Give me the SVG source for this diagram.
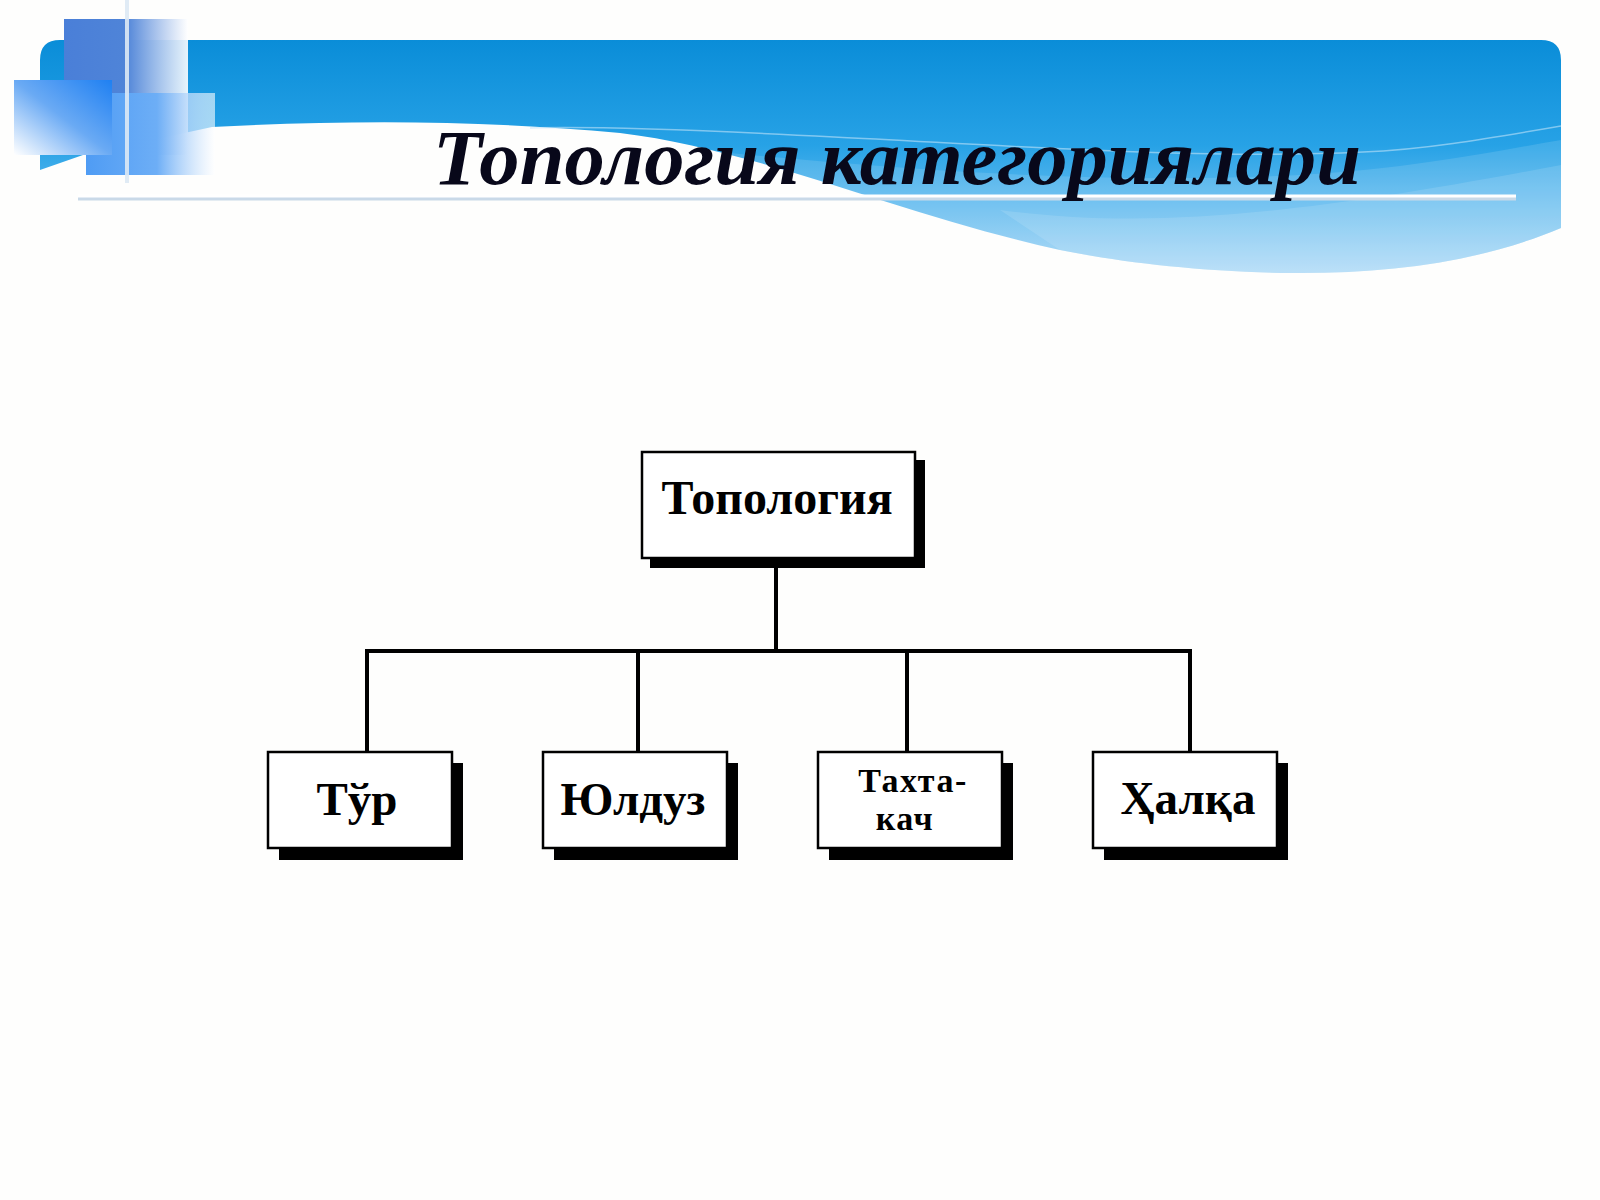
<svg xmlns="http://www.w3.org/2000/svg" width="1600" height="1200" viewBox="0 0 1600 1200">
<defs>
<linearGradient id="band" x1="0" y1="40" x2="0" y2="275" gradientUnits="userSpaceOnUse">
<stop offset="0" stop-color="#0a8dd8"/>
<stop offset="0.45" stop-color="#27a2e6"/>
<stop offset="0.7" stop-color="#62bbef"/>
<stop offset="1" stop-color="#aad8f6"/>
</linearGradient>
<linearGradient id="sq1" x1="0" y1="0" x2="1" y2="0">
<stop offset="0" stop-color="#4a7fd8"/>
<stop offset="0.5" stop-color="#4f84d8"/>
<stop offset="1" stop-color="#ffffff" stop-opacity="0.9"/>
</linearGradient>
<linearGradient id="sq2" x1="1" y1="0" x2="0" y2="1">
<stop offset="0" stop-color="#1f80f2"/>
<stop offset="0.5" stop-color="#6aaaf4"/>
<stop offset="1" stop-color="#ffffff"/>
</linearGradient>
<linearGradient id="sq3" x1="0" y1="0" x2="1" y2="0">
<stop offset="0" stop-color="#4f9cf4"/>
<stop offset="0.55" stop-color="#6daef6"/>
<stop offset="1" stop-color="#ffffff" stop-opacity="0.6"/>
</linearGradient>
<style>
.box{fill:#ffffff;stroke:#000000;stroke-width:2.5}
.shadow{fill:#000000}
.lbl{font-family:"Liberation Serif","DejaVu Serif",serif;font-weight:bold;fill:#000000;text-anchor:middle}
.conn{fill:none;stroke:#000000;stroke-width:4}
</style>
</defs>
<rect width="1600" height="1200" fill="#fefefd"/>
<g id="header">
<path d="M40,60 Q40,40 60,40 H1541 Q1561,40 1561,60 V228 C1480,262 1390,274 1290,273 C1200,272 1120,262 1060,250 C900,215 760,150 620,133 C480,120 350,120 212,127 L83,155 L40,170 Z" fill="url(#band)"/>
<path d="M1561,126 C1480,140 1420,150 1363,152 C1200,160 1000,145 834,137 C700,130 600,126 530,128" fill="none" stroke="#bfe2f8" stroke-width="1.5" opacity="0.6"/>
<path d="M700,150 C900,170 1100,185 1300,175 C1420,168 1500,150 1561,140 V228 C1480,262 1390,274 1290,273 C1200,272 1120,262 1060,250 C900,215 800,175 700,150 Z" fill="#ffffff" opacity="0.12"/>
<path d="M1000,210 C1150,230 1300,215 1561,165 V228 C1480,262 1390,274 1290,273 C1200,272 1120,262 1060,250 Z" fill="#ffffff" opacity="0.12"/>
<rect x="64" y="19" width="124" height="136" fill="url(#sq1)"/>
<rect x="86" y="93" width="129" height="82" fill="url(#sq3)"/>
<rect x="14" y="80" width="98" height="75" fill="url(#sq2)"/>
<line x1="127" y1="0" x2="127" y2="183" stroke="#dde9f5" stroke-width="4" opacity="0.9"/>
<line x1="78" y1="198" x2="1516" y2="198" stroke="#c9d9e8" stroke-width="5"/>
<line x1="78" y1="196" x2="1516" y2="196" stroke="#ffffff" stroke-width="3"/>
<text x="433" y="184" font-family="'Liberation Serif','DejaVu Serif',serif" font-weight="bold" font-style="italic" font-size="79" fill="#08081a" textLength="928" lengthAdjust="spacingAndGlyphs">Топология категориялари</text>
</g>
<g id="connectors">
<path class="conn" d="M776,568 V651"/>
<path class="conn" d="M367,751 V651 H1190 V751"/>
<path class="conn" d="M638,651 V751"/>
<path class="conn" d="M907,651 V751"/>
</g>
<g id="node-topologiya">
<rect class="shadow" x="650" y="460" width="275" height="108"/>
<rect class="box" x="642" y="452" width="273" height="106"/>
<text class="lbl" x="777" y="514" font-size="48">Топология</text>
</g>
<g id="node-tur">
<rect class="shadow" x="279" y="763" width="184" height="97"/>
<rect class="box" x="268" y="752" width="184" height="96"/>
<text class="lbl" x="357" y="815" font-size="47">Тўр</text>
</g>
<g id="node-yulduz">
<rect class="shadow" x="554" y="763" width="184" height="97"/>
<rect class="box" x="543" y="752" width="184" height="96"/>
<text class="lbl" x="633" y="815" font-size="47">Юлдуз</text>
</g>
<g id="node-taxtakach">
<rect class="shadow" x="829" y="763" width="184" height="97"/>
<rect class="box" x="818" y="752" width="184" height="96"/>
<text class="lbl" font-size="34" letter-spacing="1.5"><tspan x="913" y="792">Тахта-</tspan><tspan x="905" y="830">кач</tspan></text>
</g>
<g id="node-halqa">
<rect class="shadow" x="1104" y="763" width="184" height="97"/>
<rect class="box" x="1093" y="752" width="184" height="96"/>
<text class="lbl" x="1188" y="814" font-size="47">Ҳалқа</text>
</g>
</svg>
